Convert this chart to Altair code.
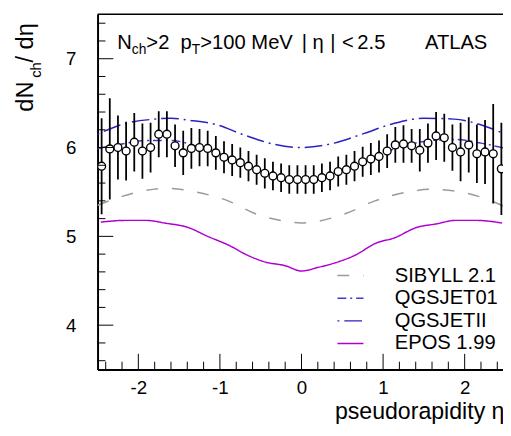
import altair as alt
import pandas as pd

# ---- data ----
eta = [-2.45, -2.35, -2.25, -2.15, -2.05, -1.95, -1.85, -1.75, -1.65, -1.55,
       -1.45, -1.35, -1.25, -1.15, -1.05, -0.95, -0.85, -0.75, -0.65, -0.55,
       -0.45, -0.35, -0.25, -0.15, -0.05, 0.05, 0.15, 0.25, 0.35, 0.45,
       0.55, 0.65, 0.75, 0.85, 0.95, 1.05, 1.15, 1.25, 1.35, 1.45,
       1.55, 1.65, 1.75, 1.85, 1.95, 2.05, 2.15, 2.25, 2.35, 2.45]
dndeta = [5.79, 5.985, 6.00, 5.96, 6.06, 5.96, 6.00, 6.15, 6.15, 6.02,
          5.94, 5.99, 6.00, 5.99, 5.94, 5.89, 5.86, 5.83, 5.79, 5.75,
          5.71, 5.68, 5.66, 5.64, 5.64, 5.64, 5.64, 5.66, 5.68, 5.73,
          5.75, 5.79, 5.84, 5.87, 5.90, 5.96, 6.03, 6.04, 6.02, 5.97,
          6.05, 6.13, 6.11, 6.00, 5.95, 6.03, 5.93, 5.95, 5.93, 5.76]
err = [0.54, 0.57, 0.36, 0.33, 0.33, 0.31, 0.28, 0.26, 0.26, 0.24,
       0.25, 0.23, 0.21, 0.20, 0.19, 0.18, 0.18, 0.17, 0.17, 0.17,
       0.17, 0.16, 0.16, 0.16, 0.16, 0.16, 0.16, 0.16, 0.16, 0.17,
       0.17, 0.17, 0.17, 0.18, 0.18, 0.19, 0.20, 0.21, 0.19, 0.24,
       0.22, 0.27, 0.27, 0.26, 0.33, 0.31, 0.33, 0.36, 0.56, 0.52]

sib_x = [-2.5, -2.2, -2.0, -1.65, -1.3, -0.9, -0.55, -0.2, 0.0, 0.2, 0.55, 0.9, 1.3, 1.6, 2.0, 2.3, 2.5]
sib_y = [5.35, 5.45, 5.50, 5.54, 5.50, 5.40, 5.25, 5.17, 5.15, 5.17, 5.26, 5.40, 5.50, 5.53, 5.49, 5.41, 5.33]

q01_x = [-2.5, -2.2, -1.9, -1.6, -1.3, -1.0, -0.7, -0.4, -0.2, 0.0, 0.2, 0.4, 0.7, 1.0, 1.3, 1.6, 1.9, 2.2, 2.5]
q01_y = [5.99, 6.04, 6.08, 6.08, 6.02, 5.93, 5.81, 5.70, 5.66, 5.64, 5.66, 5.71, 5.82, 5.94, 6.03, 6.08, 6.09, 6.05, 5.99]

q2_x = [-2.5, -2.2, -1.8, -1.6, -1.4, -1.05, -0.7, -0.35, 0.0, 0.4, 0.77, 1.13, 1.5, 1.87, 2.25, 2.5]
q2_y = [6.15, 6.26, 6.32, 6.33, 6.31, 6.26, 6.14, 6.04, 6.00, 6.05, 6.16, 6.27, 6.33, 6.32, 6.24, 6.15]

epos_x = [-2.46, -2.16, -1.9, -1.68, -1.39, -1.15, -0.87, -0.69, -0.44, -0.2, 0.0,
          0.2, 0.44, 0.64, 0.93, 1.13, 1.41, 1.65, 1.89, 2.14, 2.46]
epos_y = [5.16, 5.18, 5.18, 5.15, 5.10, 5.00, 4.89, 4.80, 4.71, 4.67, 4.61,
          4.65, 4.71, 4.78, 4.93, 4.98, 5.10, 5.14, 5.18, 5.18, 5.15]

models = ["SIBYLL 2.1", "QGSJET01", "QGSJETII", "EPOS 1.99"]
model_colors = ["#9a9a9a", "#3c3cd2", "#2b22c0", "#b000d0"]
model_dashes = [[12, 14], [9, 4, 2, 4], [2, 5, 18, 5], [1, 0]]

x_major = [-2, -1, 0, 1, 2]
x_minor = [-2.4, -2.2, -1.8, -1.6, -1.4, -1.2, -0.8, -0.6, -0.4, -0.2,
           0.2, 0.4, 0.6, 0.8, 1.2, 1.4, 1.6, 1.8, 2.2, 2.4]
y_major = [4, 5, 6, 7]
y_minor = [3.6, 3.8, 4.2, 4.4, 4.6, 4.8, 5.2, 5.4, 5.6, 5.8,
           6.2, 6.4, 6.6, 6.8, 7.2, 7.4]

# ---- tables ----
pts = pd.DataFrame({"eta": eta, "v": dndeta, "e": err})
pts["lo"] = pts["v"] - pts["e"]
pts["hi"] = pts["v"] + pts["e"]

rows = []
for name, xs_, ys_ in [("SIBYLL 2.1", sib_x, sib_y), ("QGSJET01", q01_x, q01_y),
                       ("QGSJETII", q2_x, q2_y), ("EPOS 1.99", epos_x, epos_y)]:
    for i, (a, b) in enumerate(zip(xs_, ys_)):
        rows.append({"model": name, "eta": a, "v": b, "i": i})
curves = pd.DataFrame(rows)

W, H = 412, 361
FONT = "Liberation Sans"
XDOM = [-2.5, 2.47]
YDOM = [3.5, 7.5]

xs = alt.Scale(domain=XDOM, nice=False, zero=False)
ys = alt.Scale(domain=YDOM, nice=False, zero=False)

leg = alt.Legend(title=None, orient="none", legendX=245, legendY=253.5,
                 symbolType="M-1.22,0H1.22", symbolSize=471, symbolStrokeWidth=1.5,
                 symbolFillColor="transparent",
                 labelFont=FONT, labelFontSize=20.5, labelColor="black",
                 labelOffset=33, rowPadding=0, padding=0, labelLimit=300)

lines = alt.Chart(curves).mark_line(strokeWidth=1.5, clip=True, interpolate="monotone").encode(
    x=alt.X("eta:Q", scale=xs,
            axis=alt.Axis(values=x_major, ticks=False, grid=False, domainColor="black",
                          domainWidth=2, labelFont=FONT, labelFontSize=19, labelColor="black",
                          labelExpr="datum.value + ''",
                          labelPadding=9, title="pseudorapidity η", titleFont=FONT,
                          titleFontSize=23.5, titleFontWeight="normal", titleColor="black",
                          titleAlign="right", titleAnchor="end", titleX=W + 1, titleY=50,
                          titleBaseline="alphabetic")),
    y=alt.Y("v:Q", scale=ys,
            axis=alt.Axis(values=y_major, ticks=False, grid=False, domainColor="black",
                          domainWidth=2, labelFont=FONT, labelFontSize=19, labelColor="black",
                          labelExpr="datum.value + ''",
                          labelPadding=22, title=None)),
    color=alt.Color("model:N", scale=alt.Scale(domain=models, range=model_colors), legend=leg),
    strokeDash=alt.StrokeDash("model:N", scale=alt.Scale(domain=models, range=model_dashes), legend=leg),
    order="i:Q",
)

bars = alt.Chart(pts).mark_rule(color="black", strokeWidth=1.8, clip=True).encode(
    x=alt.X("eta:Q", scale=xs), y=alt.Y("lo:Q", scale=ys), y2="hi:Q")

circles = alt.Chart(pts).mark_point(shape="circle", fill="white", stroke="black",
                                    strokeWidth=1.4, size=64, opacity=1, clip=True).encode(
    x=alt.X("eta:Q", scale=xs), y=alt.Y("v:Q", scale=ys))

# inward ticks
xmaj = alt.Chart(pd.DataFrame({"t": x_major})).mark_rule(color="black", strokeWidth=1).encode(
    x=alt.X("t:Q", scale=xs), y=alt.value(H), y2=alt.value(H - 16))
xmin = alt.Chart(pd.DataFrame({"t": x_minor})).mark_rule(color="black", strokeWidth=1).encode(
    x=alt.X("t:Q", scale=xs), y=alt.value(H), y2=alt.value(H - 8))
ymaj = alt.Chart(pd.DataFrame({"t": y_major})).mark_rule(color="black", strokeWidth=1).encode(
    y=alt.Y("t:Q", scale=ys), x=alt.value(0), x2=alt.value(16))
ymin = alt.Chart(pd.DataFrame({"t": y_minor})).mark_rule(color="black", strokeWidth=1).encode(
    y=alt.Y("t:Q", scale=ys), x=alt.value(0), x2=alt.value(8))
top = alt.Chart(pd.DataFrame({"a": [0]})).mark_rule(color="black", strokeWidth=1.5).encode(
    x=alt.value(0), x2=alt.value(W + 5), y=alt.value(0))

one = pd.DataFrame({"a": [0]})


def txt(s, x, y, size, angle=0):
    kw = dict(font=FONT, fontSize=size, color="black", align="left", baseline="alphabetic")
    if angle:
        kw["angle"] = angle
    return alt.Chart(one).mark_text(text=s, **kw).encode(x=alt.value(x), y=alt.value(y))


# page x -> view x : subtract 99
texts = [
    txt("N", 20, 35.7, 20.5),
    txt("ch", 34.8, 40.7, 14),
    txt(">2", 49.6, 35.7, 20.5),
    txt("p", 84.4, 35.7, 20.5),
    txt("T", 95.8, 40.7, 14),
    txt(">100", 104.4, 35.7, 20.5),
    txt("MeV", 156.3, 35.7, 20.5),
    txt("|", 207.4, 35.7, 20.5),
    txt("η", 218.5, 35.7, 20.5),
    txt("|", 236.5, 35.7, 20.5),
    txt("<", 248.5, 35.7, 20.5),
    txt("2.5", 264, 35.7, 20.5),
    txt("ATLAS", 332.7, 35.7, 20.5),
    # y title (rotated)
    txt("dN", -66, 99, 24, 270),
    txt("ch", -57, 64.5, 15, 270),
    txt(" / dη", -66, 49, 24, 270),
]

chart = alt.layer(lines, bars, circles, xmaj, xmin, ymaj, ymin, top, *texts).properties(
    width=W, height=H,
    autosize=alt.AutoSizeParams(type="none"),
    padding={"left": 91, "top": 3, "right": 0, "bottom": 60},
).configure_view(stroke=None)

chart.save("out.html", embed_options={"renderer": "svg", "actions": False})
